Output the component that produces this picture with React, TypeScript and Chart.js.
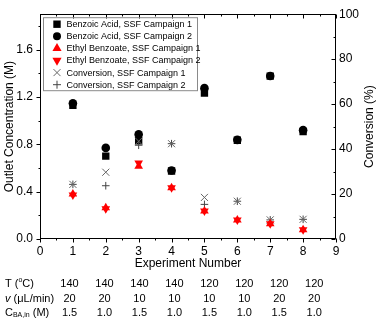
import React, { useEffect, useRef } from 'react';
import { Chart, registerables } from 'chart.js';

Chart.register(...registerables);

const FONT = 'Arial, "Liberation Sans", sans-serif';

// ---- data ----
const experiments = [1, 2, 3, 4, 5, 6, 7, 8];
const benzoicAcid1 = [1.13, 0.7, 0.83, 0.575, 1.234, 0.835, 1.376, 0.909];
const benzoicAcid2 = [1.147, 0.77, 0.884, 0.579, 1.275, 0.838, 1.378, 0.92];
const ethylBenzoate1 = [0.38, 0.264, 0.614, 0.434, 0.237, 0.161, 0.128, 0.079];
const ethylBenzoate2 = [0.372, 0.256, 0.642, 0.434, 0.237, 0.161, 0.128, 0.079];
const conversion1 = [24.3, 29.7, 43.5, 42.4, 18.5, 16.8, 8.5, 8.75];
const conversion2 = [24.3, 23.7, 41.7, 42.4, 15.4, 16.8, 8.5, 8.75];

const temperatures = ['140', '140', '140', '140', '120', '120', '120', '120'];
const flowRates = ['20', '20', '10', '10', '10', '10', '20', '20'];
const inletConcs = ['1.5', '1.0', '1.5', '1.0', '1.5', '1.0', '1.5', '1.0'];

const legendLabels = [
  'Benzoic Acid, SSF Campaign 1',
  'Benzoic Acid, SSF Campaign 2',
  'Ethyl Benzoate, SSF Campaign 1',
  'Ethyl Benzoate, SSF Campaign 2',
  'Conversion, SSF Campaign 1',
  'Conversion, SSF Campaign 2',
];

const xLabel = 'Experiment Number';
const yLeftLabel = 'Outlet Concentration (M)';
const yRightLabel = 'Conversion (%)';

const pts = (ys: number[]) => experiments.map((x, i) => ({ x, y: ys[i] }));

function drawMarker(ctx: CanvasRenderingContext2D, kind: number, x: number, y: number) {
  ctx.save();
  if (kind === 0) {
    ctx.fillStyle = '#000';
    ctx.fillRect(x - 3.7, y - 3.7, 7.4, 7.4);
  } else if (kind === 1) {
    ctx.fillStyle = '#000';
    ctx.beginPath();
    ctx.arc(x, y, 4, 0, Math.PI * 2);
    ctx.fill();
  } else if (kind === 2 || kind === 3) {
    const r = 5.3;
    const s = kind === 2 ? 1 : -1;
    ctx.fillStyle = '#ff0000';
    ctx.beginPath();
    ctx.moveTo(x, y - s * r);
    ctx.lineTo(x + r * 0.866, y + s * r / 2);
    ctx.lineTo(x - r * 0.866, y + s * r / 2);
    ctx.closePath();
    ctx.fill();
  } else if (kind === 4) {
    ctx.strokeStyle = '#666';
    ctx.lineWidth = 1;
    ctx.beginPath();
    ctx.moveTo(x - 3.5, y - 3.5);
    ctx.lineTo(x + 3.5, y + 3.5);
    ctx.moveTo(x + 3.5, y - 3.5);
    ctx.lineTo(x - 3.5, y + 3.5);
    ctx.stroke();
  } else {
    ctx.strokeStyle = '#444';
    ctx.lineWidth = 1;
    ctx.beginPath();
    ctx.moveTo(x - 4, y);
    ctx.lineTo(x + 4, y);
    ctx.moveTo(x, y - 4);
    ctx.lineTo(x, y + 4);
    ctx.stroke();
  }
  ctx.restore();
}

const overlayPlugin = {
  id: 'overlay',
  afterDraw(chart: any) {
    const ctx: CanvasRenderingContext2D = chart.ctx;
    const { left, right, top, bottom } = chart.chartArea;
    const xs = chart.scales.x;
    const yl = chart.scales.y;
    const yr = chart.scales.y2;
    ctx.save();

    // frame
    ctx.strokeStyle = '#000';
    ctx.lineWidth = 1;
    const L = Math.round(left) + 0.5;
    const R = Math.round(right) - 0.5;
    const T = Math.round(top) + 0.5;
    const B = Math.round(bottom) - 0.5;
    ctx.strokeRect(L, T, R - L, B - T);

    // ticks
    ctx.beginPath();
    for (let v = 0; v <= 9.0001; v += 0.5) {
      const px = Math.round(xs.getPixelForValue(v)) + 0.5;
      const major = Math.abs(v - Math.round(v)) < 1e-6;
      const len = major ? 4 : 2;
      ctx.moveTo(px, B);
      ctx.lineTo(px, B + len);
      ctx.moveTo(px, T);
      ctx.lineTo(px, T + len);
    }
    for (let k = 0; k <= 9; k++) {
      const v = k * 0.2;
      const py = Math.round(yl.getPixelForValue(v)) + 0.5;
      const len = k % 2 === 0 ? 4 : 2;
      ctx.moveTo(L, py);
      ctx.lineTo(L - len, py);
    }
    for (let k = 0; k <= 10; k++) {
      const v = k * 10;
      const py = Math.round(yr.getPixelForValue(v)) + 0.5;
      const len = k % 2 === 0 ? 4 : 2;
      ctx.moveTo(R, py);
      ctx.lineTo(R - len, py);
    }
    ctx.stroke();

    // right title (reads bottom to top)
    ctx.fillStyle = '#000';
    ctx.font = `12px ${FONT}`;
    ctx.textAlign = 'center';
    ctx.textBaseline = 'middle';
    ctx.save();
    ctx.translate(370, (top + bottom) / 2);
    ctx.rotate(-Math.PI / 2);
    ctx.fillText(yRightLabel, 0, 0);
    ctx.restore();

    // legend
    ctx.strokeStyle = '#8a8a8a';
    ctx.strokeRect(left + 3.5, top + 3.5, 154, 73);
    ctx.font = `9px ${FONT}`;
    ctx.textAlign = 'left';
    ctx.textBaseline = 'middle';
    legendLabels.forEach((lab, i) => {
      const y = top + 10 + i * 12.1;
      drawMarker(ctx, i, left + 17, y);
      ctx.fillStyle = '#000';
      ctx.fillText(lab, left + 26.5, y + 0.5);
    });

    // table under the axis (columns slightly wider-spaced than the axis units)
    const rowY = [283.5, 298.5, 312.5];
    ctx.font = `11px ${FONT}`;
    ctx.fillStyle = '#000';
    ctx.textAlign = 'center';
    experiments.forEach((e, i) => {
      const cx = xs.getPixelForValue(e * 1.0627) - 5.4;
      ctx.fillText(temperatures[i], cx, rowY[0]);
      ctx.fillText(flowRates[i], cx, rowY[1]);
      ctx.fillText(inletConcs[i], cx, rowY[2]);
    });

    ctx.textAlign = 'left';
    // row 1: T (oC)
    let x0 = 5;
    ctx.font = `11px ${FONT}`;
    ctx.fillText('T (', x0, rowY[0]);
    x0 += ctx.measureText('T (').width;
    ctx.font = `7px ${FONT}`;
    ctx.fillText('o', x0, rowY[0] - 3.5);
    x0 += ctx.measureText('o').width;
    ctx.font = `11px ${FONT}`;
    ctx.fillText('C)', x0, rowY[0]);

    // row 2: v (µL/min)
    x0 = 5;
    ctx.font = `italic 11px ${FONT}`;
    ctx.fillText('v', x0, rowY[1]);
    x0 += ctx.measureText('v').width;
    ctx.font = `11px ${FONT}`;
    ctx.fillText(' (\u03bcL/min)', x0, rowY[1]);

    // row 3: C_BA,in (M)
    x0 = 5;
    ctx.fillText('C', x0, rowY[2]);
    x0 += ctx.measureText('C').width;
    ctx.font = `7px ${FONT}`;
    ctx.fillText('BA,in', x0, rowY[2] + 3);
    x0 += ctx.measureText('BA,in').width;
    ctx.font = `11px ${FONT}`;
    ctx.fillText(' (M)', x0, rowY[2]);

    ctx.restore();
  },
};

export default function App() {
  const canvasRef = useRef<HTMLCanvasElement | null>(null);

  useEffect(() => {
    document.body.style.margin = '0';
    const canvas = canvasRef.current;
    if (!canvas) return;
    Chart.defaults.font.family = FONT;
    Chart.defaults.color = '#000';

    const chart = new Chart(canvas, {
      type: 'scatter',
      data: {
        datasets: [
          {
            label: legendLabels[0],
            data: pts(benzoicAcid1),
            yAxisID: 'y',
            pointStyle: 'rect',
            pointRadius: 5.2,
            backgroundColor: '#000',
            borderColor: '#000',
            borderWidth: 0,
            order: 5,
          },
          {
            label: legendLabels[1],
            data: pts(benzoicAcid2),
            yAxisID: 'y',
            pointStyle: 'circle',
            pointRadius: 4.3,
            backgroundColor: '#000',
            borderColor: '#000',
            borderWidth: 0,
            order: 4,
          },
          {
            label: legendLabels[2],
            data: pts(ethylBenzoate1),
            yAxisID: 'y',
            pointStyle: 'triangle',
            pointRadius: 5,
            backgroundColor: '#ff0000',
            borderColor: '#ff0000',
            borderWidth: 0,
            order: 1,
          },
          {
            label: legendLabels[3],
            data: pts(ethylBenzoate2),
            yAxisID: 'y',
            pointStyle: 'triangle',
            rotation: 180,
            pointRadius: 5,
            backgroundColor: '#ff0000',
            borderColor: '#ff0000',
            borderWidth: 0,
            order: 2,
          },
          {
            label: legendLabels[4],
            data: pts(conversion1),
            yAxisID: 'y2',
            pointStyle: 'crossRot',
            pointRadius: 5,
            backgroundColor: '#666',
            borderColor: '#666',
            borderWidth: 1,
            order: 3,
          },
          {
            label: legendLabels[5],
            data: pts(conversion2),
            yAxisID: 'y2',
            pointStyle: 'cross',
            pointRadius: 3.8,
            backgroundColor: '#444',
            borderColor: '#444',
            borderWidth: 1,
            order: 3,
          },
        ],
      },
      options: {
        responsive: false,
        maintainAspectRatio: false,
        devicePixelRatio: 1,
        animation: false,
        events: [],
        layout: { padding: { top: 7, bottom: 50, left: 0, right: 0 }, autoPadding: false },
        plugins: {
          legend: { display: false },
          tooltip: { enabled: false },
        },
        scales: {
          x: {
            type: 'linear',
            position: 'bottom',
            min: 0,
            max: 9,
            grid: { display: false, drawTicks: false },
            border: { display: false },
            ticks: {
              stepSize: 1,
              includeBounds: false,
              padding: 5,
              font: { size: 12, family: FONT },
              color: '#000',
              maxRotation: 0,
            },
            title: {
              display: true,
              text: xLabel,
              font: { size: 12, family: FONT },
              color: '#000',
              padding: { top: 0, bottom: 0 },
            },
            afterFit: (s: any) => {
              s.height = 32;
            },
          },
          y: {
            type: 'linear',
            position: 'left',
            min: 0,
            max: 1.9,
            grid: { display: false, drawTicks: false },
            border: { display: false },
            ticks: {
              stepSize: 0.4,
              includeBounds: false,
              padding: 7,
              font: { size: 12, family: FONT },
              color: '#000',
              callback: (v: any) => Number(v).toFixed(1),
            },
            title: {
              display: true,
              text: yLeftLabel,
              font: { size: 12, family: FONT },
              color: '#000',
              padding: { top: 2, bottom: 0 },
            },
            afterFit: (s: any) => {
              s.width = 40;
            },
          },
          y2: {
            type: 'linear',
            position: 'right',
            min: 0,
            max: 100,
            grid: { display: false, drawTicks: false },
            border: { display: false },
            ticks: {
              stepSize: 20,
              includeBounds: false,
              padding: 3,
              font: { size: 12, family: FONT },
              color: '#000',
            },
            title: { display: false },
            afterFit: (s: any) => {
              s.width = 42;
            },
          },
        },
      },
      plugins: [overlayPlugin],
    } as any);

    return () => chart.destroy();
  }, []);

  return (
    <div style={{ width: 378, height: 321 }}>
      <canvas ref={canvasRef} width={378} height={321} style={{ display: 'block' }} />
    </div>
  );
}
